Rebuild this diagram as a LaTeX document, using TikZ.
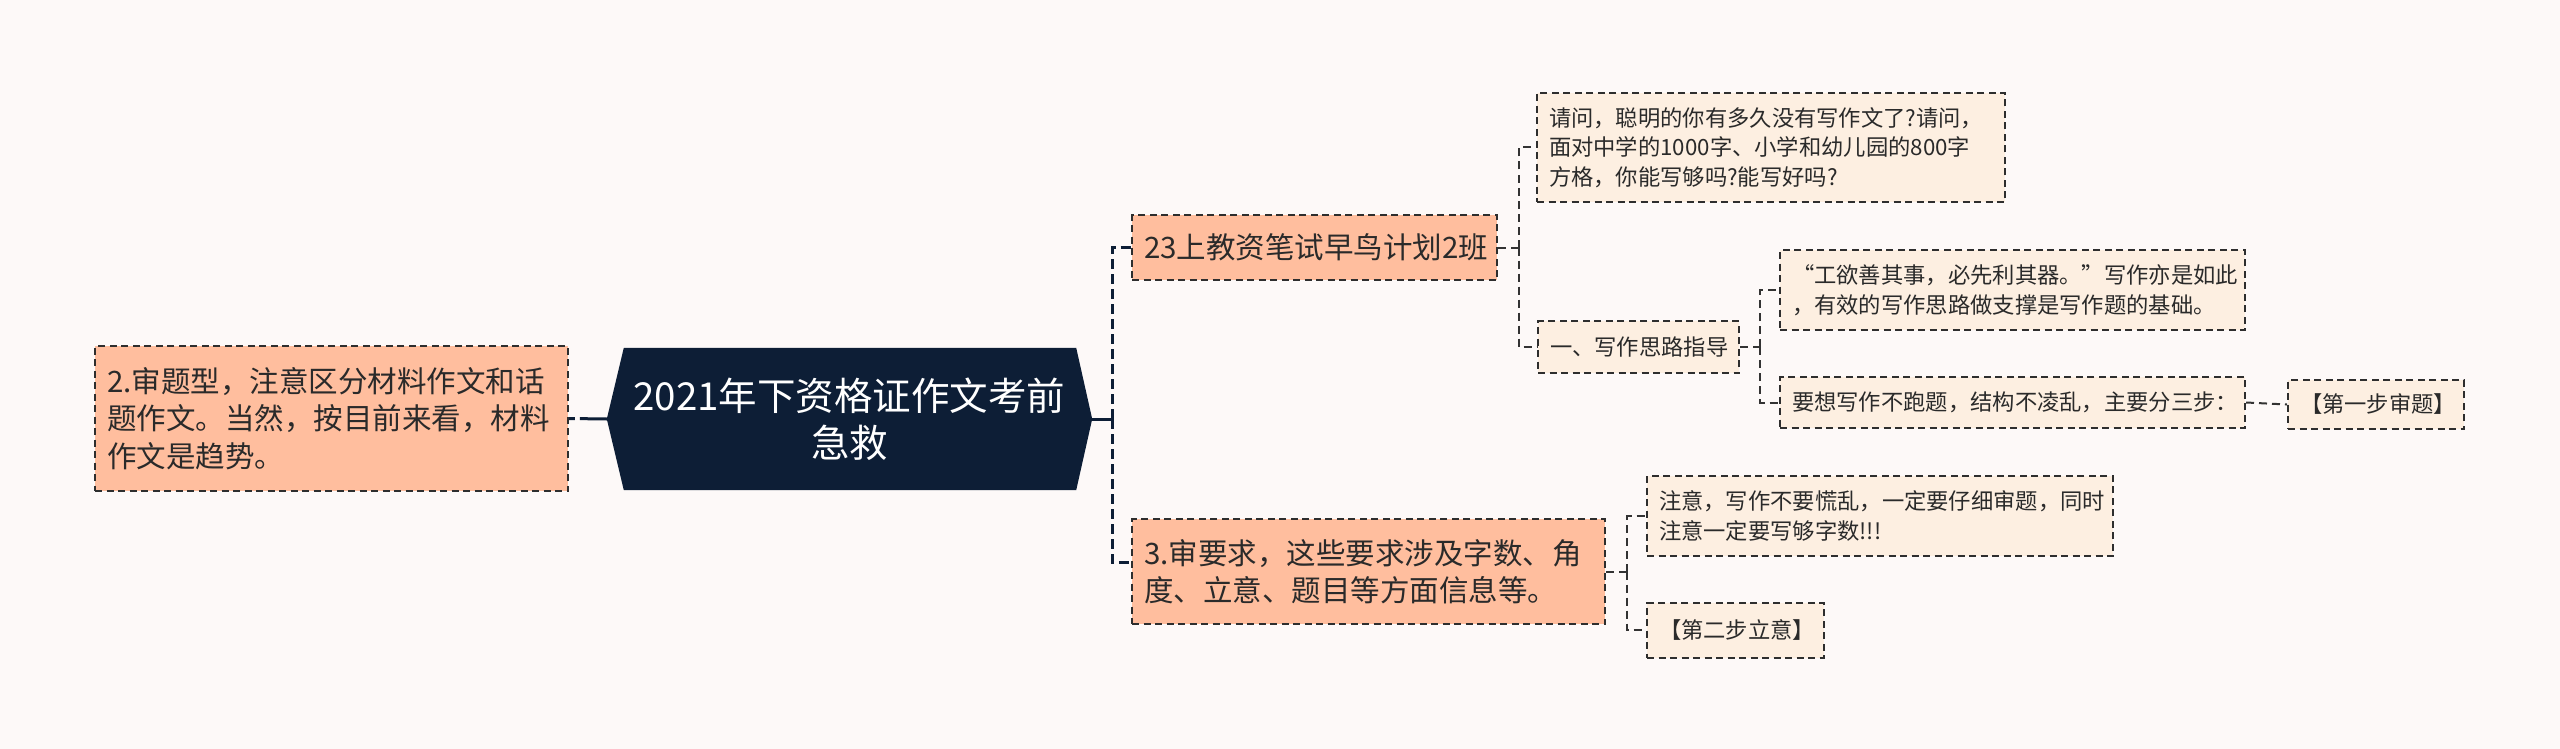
\documentclass[tikz,border=0pt]{standalone}
\usepackage{fontspec}
\setmainfont{Noto Sans CJK SC}
\usetikzlibrary{backgrounds}
\definecolor{bgc}{HTML}{FDF9F8}
\definecolor{navy}{HTML}{0D1E36}
\definecolor{peach}{HTML}{FFBE9E}
\definecolor{cream}{HTML}{FDEFE1}
\definecolor{boxline}{HTML}{2E2E2E}
\definecolor{txt}{HTML}{2A2A2A}
\definecolor{subline}{HTML}{333333}
\begin{document}
\begin{tikzpicture}[x=1pt,y=-1pt,
  box/.style={draw=boxline, line width=2pt, dash pattern=on 7pt off 4.5pt, rectangle, inner xsep=12pt, inner ysep=0pt, align=left, anchor=center},
  lvone/.style={box, fill=peach, text=txt, font=\fontsize{29.5}{37.5}\selectfont},
  lvtwo/.style={box, fill=cream, text=txt, font=\fontsize{22.3}{29.5}\selectfont},
  mainsolid/.style={draw=navy, line width=3pt},
  maindash/.style={draw=navy, line width=3pt, dash pattern=on 10pt off 5pt},
  subdash/.style={draw=subline, line width=2pt, dash pattern=on 8pt off 5pt}]
\begin{scope}[on background layer]
\fill[bgc] (0,0) rectangle (2560,749);
\end{scope}
\useasboundingbox (0,0) rectangle (2560,749);

% root
\node[font=\fontsize{38.5}{47}\selectfont, text=white, align=center, minimum width=485pt, minimum height=142pt, inner sep=0pt] (root) at (849.5,419) {2021年下资格证作文考前\\急救};
\begin{scope}[on background layer]
\fill[navy] (root.west) -- ([xshift=17pt]root.north west) -- ([xshift=-16pt]root.north east) -- (root.east) -- ([xshift=-16pt]root.south east) -- ([xshift=17pt]root.south west) -- cycle;
\end{scope}

% level 1
\node[lvone, text width=449pt, minimum height=145pt] (L) at (331.5,418.5) {2.审题型，注意区分材料作文和话\\题作文。当然，按目前来看，材料\\作文是趋势。};
\node[lvone, text width=341pt, minimum height=65pt] (A) at (1314.5,247.5) {23上教资笔试早鸟计划2班};
\node[lvone, text width=449pt, minimum height=105pt] (B) at (1368.5,571.5) {3.审要求，这些要求涉及字数、角\\度、立意、题目等方面信息等。};

% level 2
\node[lvtwo, text width=444pt, minimum height=109pt] (Q) at (1771,147.5) {请问，聪明的你有多久没有写作文了?请问，\\面对中学的1000字、小学和幼儿园的800字\\方格，你能写够吗?能写好吗?};
\node[lvtwo, text width=177pt, minimum height=52pt] (S) at (1638.5,347) {一、写作思路指导};
\node[lvtwo, text width=441pt, minimum height=80pt, inner xsep=12pt] (G) at (2012.5,290) {“工欲善其事，必先利其器。”写作亦是如此\\，有效的写作思路做支撑是写作题的基础。};
\node[lvtwo, text width=441pt, minimum height=51pt] (Y) at (2012.5,402.5) {要想写作不跑题，结构不凌乱，主要分三步：};
\node[lvtwo, text width=152pt, minimum height=49pt] (F1) at (2376,404.5) {【第一步审题】};
\node[lvtwo, text width=442pt, minimum height=80pt] (N) at (1880,516) {注意，写作不要慌乱，一定要仔细审题，同时\\注意一定要写够字数!!!};
\node[lvtwo, text width=153pt, minimum height=55pt] (F2) at (1735.5,630) {【第二步立意】};

% connectors
\draw[draw=navy, line width=3pt, dash pattern=on 27pt off 5pt] (root.west) -- (L.east);
\draw[mainsolid] (root.east) -- ++(20,0) coordinate (tr);
\draw[maindash] (tr) |- (A.west);
\draw[maindash] (tr) |- ([yshift=9.5pt]B.west);

\draw[subdash] (A.east) -- ++(21,0) coordinate (ta);
\draw[subdash] (ta) |- (Q.west);
\draw[subdash] (ta) |- (S.west);

\draw[subdash] (S.east) -- ++(20,0) coordinate (ts);
\draw[subdash] (ts) |- (G.west);
\draw[subdash] (ts) |- (Y.west);
\draw[subdash] (Y.east) -- (F1.west);

\draw[subdash] (B.east) -- ++(21,0) coordinate (tb);
\draw[subdash] (tb) |- (N.west);
\draw[subdash] (tb) |- (F2.west);
\end{tikzpicture}
\end{document}
